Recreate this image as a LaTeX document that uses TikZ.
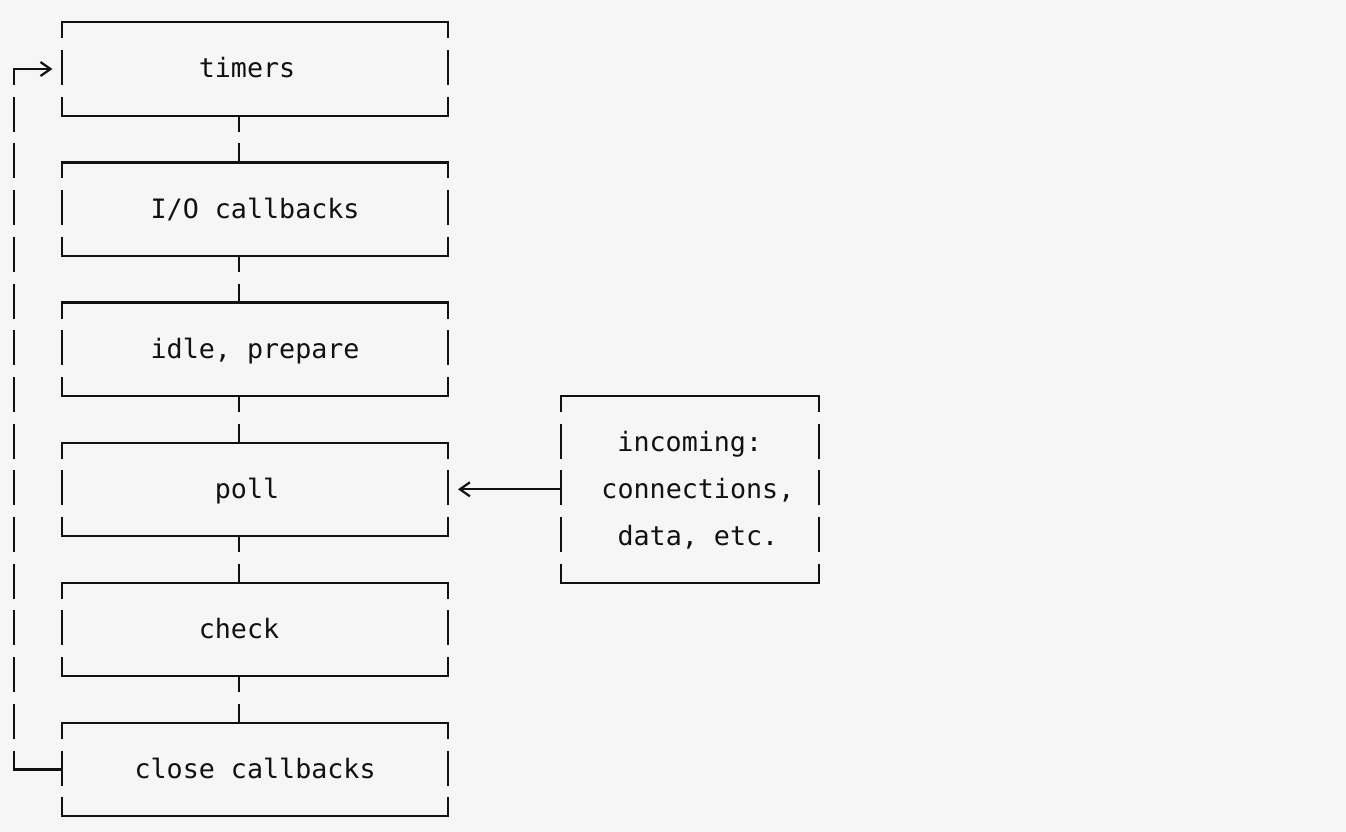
\documentclass[tikz,border=0pt]{standalone}
\usepackage{fontspec}
\setmonofont{DejaVu Sans Mono}
\usetikzlibrary{arrows.meta}
\definecolor{bg}{HTML}{F6F6F6}
\definecolor{ink}{HTML}{111111}
\tikzset{
  boxnode/.style={rectangle, draw=none, inner sep=0pt, outer sep=0pt, minimum width=386.4pt, minimum height=93.4pt},
  hline/.style={line width=2.2pt, line cap=rect, draw=ink},
  vside/.style={line width=2.2pt, draw=ink, dash pattern=on 35pt off 11.7pt, dash phase=19pt},
  lbl/.style={anchor=base, inner sep=0pt, text=ink, font=\ttfamily\fontsize{26.7}{30}\selectfont},
  tip/.style={-{Straight Barb[length=10pt,width=14pt]}},
}
\newcommand\asciibox[1]{%
  \draw[hline] (#1.north west) -- (#1.north east);
  \draw[hline] (#1.south west) -- (#1.south east);
  \draw[vside] (#1.north west) -- (#1.south west);
  \draw[vside] (#1.north east) -- (#1.south east);
}
\begin{document}
\begin{tikzpicture}[x=1pt,y=-1pt]
\fill[bg] (0,0) rectangle (1346,832);
\useasboundingbox (0,0) rectangle (1346,832);
% boxes
\node[boxnode] (timers) at (255.1,69.0) {};
\node[boxnode] (io)     at (255.1,209.1) {};
\node[boxnode] (idle)   at (255.1,349.2) {};
\node[boxnode] (poll)   at (255.1,489.3) {};
\node[boxnode] (check)  at (255.1,629.4) {};
\node[boxnode] (close)  at (255.1,769.5) {};
\node[boxnode, minimum width=257.6pt, minimum height=186.8pt] (incoming) at (689.8,489.3) {};
\asciibox{timers}
\asciibox{io}
\asciibox{idle}
\asciibox{poll}
\asciibox{check}
\asciibox{close}
\asciibox{incoming}
% labels
\node[lbl] (ltimers) at (247.05,78.0) {timers};
\node[lbl] (lio)     at (255.1,218.1) {I/O callbacks};
\node[lbl] (lidle)   at (255.1,358.2) {idle, prepare};
\node[lbl] (lpoll)   at (247.05,498.3) {poll};
\node[lbl] (lcheck)  at (239.0,638.4) {check};
\node[lbl] (lclose)  at (255.1,778.5) {close callbacks};
\node[lbl] (linc1)   at (689.8,451.6) {incoming:};
\node[lbl] (linc2)   at (697.9,498.3) {connections,};
\node[lbl] (linc3)   at (697.9,545.0) {data, etc.};
% connectors between boxes
\coordinate (c14) at (239.0,0);
\draw[vside] (timers.south -| c14) -- (io.north -| c14);
\draw[vside] (io.south -| c14) -- (idle.north -| c14);
\draw[vside] (idle.south -| c14) -- (poll.north -| c14);
\draw[vside] (poll.south -| c14) -- (check.north -| c14);
\draw[vside] (check.south -| c14) -- (close.north -| c14);
% loop back
\coordinate (looptop) at (13.6,69.0);
\coordinate (loopbot) at (13.6,769.5);
\draw[vside] (looptop) -- (loopbot);
\draw[hline] (loopbot) -- (close.west);
\draw[hline, tip, shorten >=9.5pt] (looptop) -- (timers.west);
% incoming arrow
\draw[hline, tip, shorten >=9.7pt] (incoming.west) -- (poll.east);
\end{tikzpicture}
\end{document}
